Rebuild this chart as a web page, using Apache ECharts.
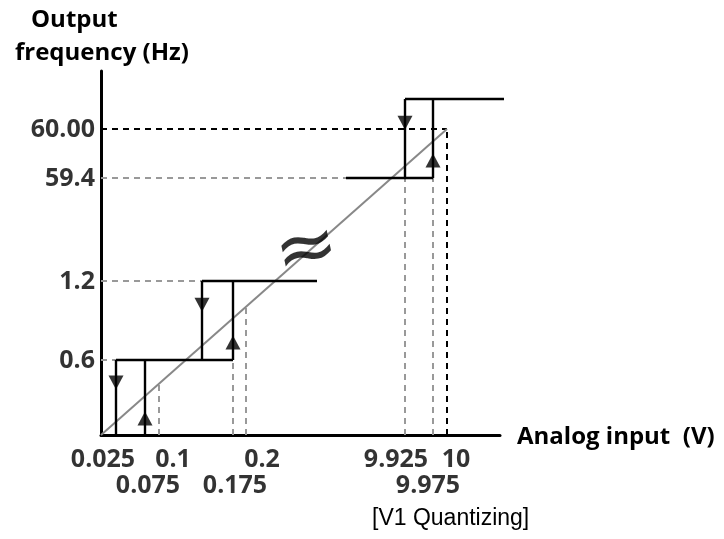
<!DOCTYPE html>
<html>
<head>
<meta charset="UTF-8">
<title>V1 Quantizing</title>
<script src="https://cdn.jsdelivr.net/npm/echarts@6/dist/echarts.min.js"></script>
<style>
html, body { margin: 0; padding: 0; background: #fff; }
#chart { width: 724px; height: 539px; }
</style>
</head>
<body>
<div id="chart"></div>
<script>
// schematic chart: the x axis is broken (0.2 ... 9.925), so positions are along the drawn axis
var xTickLabels = ['0.025', '0.075', '0.1', '0.175', '0.2', '9.925', '9.975', '10'];
var xTickPos    = [15, 44, 58, 132, 145, 304, 332, 346];
var yTickLabels = ['0.6', '1.2', '59.4', '60.00'];
var yTickPos    = [75, 154, 257, 306];

// hysteresis loops: falling edge x, rising edge x, low level, high level
var stepDown = [15, 101, 304];
var stepUp   = [44, 132, 332];
var stepLow  = [0, 75, 257];
var stepHigh = [75, 154, 336];

// held output levels (horizontal parts)
var holdLevel = [75, 154, 257, 336];
var holdFrom  = [15, 101, 245, 304];
var holdTo    = [132, 216, 332, 403];

// ideal linear line: 0 V -> 0 Hz, 10 V -> 60.00 Hz
var ideal = [[0, 0], [346, 306]];
var slope = (ideal[1][1] - ideal[0][1]) / (ideal[1][0] - ideal[0][0]);

var FONT = '"Open Sans", "Noto Sans", sans-serif';
var FW = 'bold';

// --- build segments ---
var stepSegs = [];
for (var i = 0; i < stepDown.length; i++) {
    stepSegs.push({coords: [[stepDown[i], stepHigh[i]], [stepDown[i], stepLow[i]]]});
    stepSegs.push({coords: [[stepUp[i], stepLow[i]], [stepUp[i], stepHigh[i]]]});
}
for (var i = 0; i < holdLevel.length; i++) {
    stepSegs.push({coords: [[holdFrom[i], holdLevel[i]], [holdTo[i], holdLevel[i]]]});
}

var arrows = [];
for (var i = 0; i < stepDown.length; i++) {
    var h = stepHigh[i] - stepLow[i];
    arrows.push({value: [stepDown[i], stepLow[i] + h * 0.7], symbolRotate: 180});
    arrows.push({value: [stepUp[i], stepLow[i] + h * 0.22], symbolRotate: 0});
}

var grayGuides = [], blackGuides = [];
xTickPos.forEach(function (x, i) {
    var top;
    var k = stepDown.indexOf(x) >= 0 ? stepDown.indexOf(x) : stepUp.indexOf(x);
    if (k >= 0) top = stepLow[k];
    else top = x * slope;
    if (top <= 0) return;
    var seg = {coords: [[x, 0], [x, top]]};
    (i == xTickPos.length - 1 ? blackGuides : grayGuides).push(seg);
});
yTickPos.forEach(function (y, i) {
    var k = holdLevel.indexOf(y);
    var end = k >= 0 ? holdFrom[k] : y / slope;
    var seg = {coords: [[0, y], [end, y]]};
    (i == yTickPos.length - 1 ? blackGuides : grayGuides).push(seg);
});

// label placement (row and nudge so neighbours don't collide)
var xLabelRow   = [1, 2, 1, 2, 1, 1, 2, 1];
var xLabelNudge = [-13, 3, 14, 2, 16, -9, -5, 9];

var xLabelData = xTickPos.map(function (x, i) {
    return {
        value: [x, 0],
        label: {formatter: xTickLabels[i], offset: [xLabelNudge[i], xLabelRow[i] == 1 ? 25 : 51]}
    };
});
var yLabelData = yTickPos.map(function (y, i) {
    return {value: [0, y], label: {formatter: yTickLabels[i]}};
});

var txt = {fontFamily: FONT, fontWeight: FW, fontSize: 25, color: '#000'};
var ttl = {fontFamily: FONT, fontWeight: FW, fontSize: 24, color: '#000'};
var hidden = {show: false};
var option = {
    animation: false,
    backgroundColor: '#fff',
    title: [
        {text: 'Output', left: 26, top: 3, textStyle: ttl},
        {text: 'frequency (Hz)', left: 10, top: 36, textStyle: ttl},
        {text: 'Analog input  (V)', left: 512, top: 420, textStyle: ttl},
        {text: '[V1 Quantizing]', left: 367, top: 502, textStyle: {fontFamily: '"Liberation Sans", Arial, sans-serif', fontWeight: 'normal', fontSize: 23, color: '#000'}}
    ],
    grid: {left: 101, top: 71, width: 399, height: 364},
    xAxis: {
        type: 'value', min: 0, max: 399,
        axisLine: {show: true, lineStyle: {color: '#000', width: 3}},
        axisTick: hidden, axisLabel: hidden, splitLine: hidden
    },
    yAxis: {
        type: 'value', min: 0, max: 364,
        axisLine: {show: true, lineStyle: {color: '#000', width: 3}},
        axisTick: hidden, axisLabel: hidden, splitLine: hidden
    },
    series: [
        {
            type: 'lines', coordinateSystem: 'cartesian2d', silent: true, clip: false, z: 2,
            lineStyle: {color: '#999', width: 2, type: [6, 5], opacity: 1},
            data: grayGuides
        },
        {
            type: 'lines', coordinateSystem: 'cartesian2d', silent: true, clip: false, z: 2,
            lineStyle: {color: '#000', width: 2, type: [6, 5], opacity: 1},
            data: blackGuides
        },
        {
            type: 'lines', coordinateSystem: 'cartesian2d', silent: true, clip: false, z: 3,
            lineStyle: {color: '#888', width: 2, opacity: 1},
            data: [{coords: ideal}]
        },
        {
            type: 'lines', coordinateSystem: 'cartesian2d', silent: true, clip: false, z: 4,
            lineStyle: {color: '#000', width: 2.4, opacity: 1},
            data: stepSegs
        },
        {
            type: 'scatter', silent: true, clip: false, z: 5,
            symbol: 'triangle', symbolSize: [15, 14],
            itemStyle: {color: '#000'},
            data: arrows
        },
        {
            type: 'scatter', silent: true, clip: false, z: 6, symbolSize: 0,
            label: Object.assign({show: true, position: 'inside', align: 'center', verticalAlign: 'middle'}, txt),
            data: xLabelData
        },
        {
            type: 'scatter', silent: true, clip: false, z: 6, symbolSize: 0,
            label: Object.assign({show: true, position: 'inside', align: 'right', verticalAlign: 'middle', offset: [-6, 1]}, txt),
            data: yLabelData
        },
        {
            // axis break mark on the ideal line
            type: 'scatter', silent: true, clip: false, z: 6, symbolSize: 0,
            label: {show: true, position: 'inside', formatter: '\u2248', rotate: 12,
                fontFamily: '"DejaVu Sans", sans-serif', fontWeight: 'normal', fontSize: 76, color: '#000'},
            data: [[206, 183]]
        }
    ]
};

var chart = echarts.init(document.getElementById('chart'), null, {renderer: 'canvas'});
chart.setOption(option);
</script>
</body>
</html>
